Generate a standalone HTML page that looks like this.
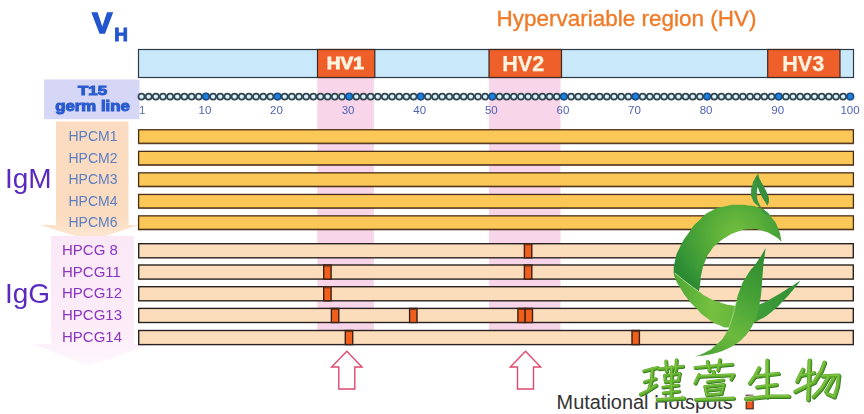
<!DOCTYPE html>
<html><head><meta charset="utf-8"><title>VH hypervariable region</title>
<style>
html,body{margin:0;padding:0;background:#fff;}
body{width:864px;height:414px;overflow:hidden;font-family:"Liberation Sans",sans-serif;}
svg{display:block;}
text{font-family:"Liberation Sans",sans-serif;}
</style></head><body>
<svg width="864" height="414" viewBox="0 0 864 414">
<defs>
<linearGradient id="gIgM" x1="0" y1="0" x2="0" y2="1"><stop offset="0" stop-color="#fbdcc2"/><stop offset="0.8" stop-color="#fbdcc0"/><stop offset="1" stop-color="#fde9d6"/></linearGradient>
<linearGradient id="gIgG" x1="0" y1="0" x2="0" y2="1"><stop offset="0" stop-color="#fae8f7"/><stop offset="0.7" stop-color="#fcecf8"/><stop offset="1" stop-color="#fef7fc"/></linearGradient>
<linearGradient id="gLogoA" x1="0" y1="0" x2="1" y2="1"><stop offset="0" stop-color="#3f9a2c"/><stop offset="0.45" stop-color="#6cb83a"/><stop offset="1" stop-color="#2f8a2a"/></linearGradient>
<linearGradient id="gLogoB" x1="0" y1="0" x2="1" y2="1"><stop offset="0" stop-color="#4aa52e"/><stop offset="0.5" stop-color="#7cc441"/><stop offset="1" stop-color="#3d9a30"/></linearGradient>
<linearGradient id="gLogoC" x1="0" y1="0" x2="0" y2="1"><stop offset="0" stop-color="#2f8a2c"/><stop offset="0.5" stop-color="#5fb038"/><stop offset="1" stop-color="#3f9a2c"/></linearGradient>
<filter id="soft" x="0" y="0" width="864" height="414" filterUnits="userSpaceOnUse"><feGaussianBlur stdDeviation="0.45"/></filter>
<linearGradient id="gTxt" x1="0" y1="0" x2="0" y2="1"><stop offset="0" stop-color="#7abf3a"/><stop offset="1" stop-color="#3f8f22"/></linearGradient>
</defs>
<rect width="864" height="414" fill="#fff"/>
<g filter="url(#soft)">

<rect x="317.3" y="78" width="56.6" height="266.8" fill="#f8d5e8"/>
<rect x="489" y="78" width="71.5" height="266.8" fill="#f8d5e8"/>
<polygon points="56,121.5 128.5,121.5 128.5,225 138,225 91,241 40,225 56,225" fill="url(#gIgM)"/>
<polygon points="51,236 134,236 134,344 150,344 90,366 32,344 51,344" fill="url(#gIgG)"/>
<rect x="44" y="79.5" width="95.5" height="39.7" fill="#d6d6f7"/>
<rect x="138.5" y="49.5" width="715" height="28" fill="#c9e9fb" stroke="#2b3a45" stroke-width="1.2"/>
<rect x="317.5" y="49.5" width="57.30000000000001" height="28" fill="#ee5f2c" stroke="#3a2a24" stroke-width="1.2"/>
<rect x="489" y="49.5" width="72.5" height="28" fill="#ee5f2c" stroke="#3a2a24" stroke-width="1.2"/>
<rect x="767.7" y="49.5" width="72.29999999999995" height="28" fill="#ee5f2c" stroke="#3a2a24" stroke-width="1.2"/>
<text x="326.8" y="69.4" font-size="16.4" font-weight="bold" fill="#fdf3df" stroke="#fdf3df" stroke-width="0.9" textLength="37" lengthAdjust="spacingAndGlyphs">HV1</text>
<text x="502.2" y="71" font-size="21.6" font-weight="bold" fill="#fdf3df" stroke="#fdf3df" stroke-width="0.25" textLength="42" lengthAdjust="spacingAndGlyphs">HV2</text>
<text x="782.2" y="70.9" font-size="21.6" font-weight="bold" fill="#fdf3df" stroke="#fdf3df" stroke-width="0.25" textLength="42" lengthAdjust="spacingAndGlyphs">HV3</text>
<circle cx="141.50" cy="96.6" r="3.05" fill="#d8f0fb" stroke="#33454f" stroke-width="1.75"/>
<circle cx="148.66" cy="96.6" r="3.05" fill="#d8f0fb" stroke="#33454f" stroke-width="1.75"/>
<circle cx="155.82" cy="96.6" r="3.05" fill="#d8f0fb" stroke="#33454f" stroke-width="1.75"/>
<circle cx="162.98" cy="96.6" r="3.05" fill="#d8f0fb" stroke="#33454f" stroke-width="1.75"/>
<circle cx="170.14" cy="96.6" r="3.05" fill="#d8f0fb" stroke="#33454f" stroke-width="1.75"/>
<circle cx="177.30" cy="96.6" r="3.05" fill="#d8f0fb" stroke="#33454f" stroke-width="1.75"/>
<circle cx="184.46" cy="96.6" r="3.05" fill="#d8f0fb" stroke="#33454f" stroke-width="1.75"/>
<circle cx="191.62" cy="96.6" r="3.05" fill="#d8f0fb" stroke="#33454f" stroke-width="1.75"/>
<circle cx="198.78" cy="96.6" r="3.05" fill="#d8f0fb" stroke="#33454f" stroke-width="1.75"/>
<circle cx="205.94" cy="96.6" r="3.3" fill="#1b82e2" stroke="#1c4c80" stroke-width="1.6"/>
<circle cx="213.10" cy="96.6" r="3.05" fill="#d8f0fb" stroke="#33454f" stroke-width="1.75"/>
<circle cx="220.26" cy="96.6" r="3.05" fill="#d8f0fb" stroke="#33454f" stroke-width="1.75"/>
<circle cx="227.42" cy="96.6" r="3.05" fill="#d8f0fb" stroke="#33454f" stroke-width="1.75"/>
<circle cx="234.57" cy="96.6" r="3.05" fill="#d8f0fb" stroke="#33454f" stroke-width="1.75"/>
<circle cx="241.73" cy="96.6" r="3.05" fill="#d8f0fb" stroke="#33454f" stroke-width="1.75"/>
<circle cx="248.89" cy="96.6" r="3.05" fill="#d8f0fb" stroke="#33454f" stroke-width="1.75"/>
<circle cx="256.05" cy="96.6" r="3.05" fill="#d8f0fb" stroke="#33454f" stroke-width="1.75"/>
<circle cx="263.21" cy="96.6" r="3.05" fill="#d8f0fb" stroke="#33454f" stroke-width="1.75"/>
<circle cx="270.37" cy="96.6" r="3.05" fill="#d8f0fb" stroke="#33454f" stroke-width="1.75"/>
<circle cx="277.53" cy="96.6" r="3.3" fill="#1b82e2" stroke="#1c4c80" stroke-width="1.6"/>
<circle cx="284.69" cy="96.6" r="3.05" fill="#d8f0fb" stroke="#33454f" stroke-width="1.75"/>
<circle cx="291.85" cy="96.6" r="3.05" fill="#d8f0fb" stroke="#33454f" stroke-width="1.75"/>
<circle cx="299.01" cy="96.6" r="3.05" fill="#d8f0fb" stroke="#33454f" stroke-width="1.75"/>
<circle cx="306.17" cy="96.6" r="3.05" fill="#d8f0fb" stroke="#33454f" stroke-width="1.75"/>
<circle cx="313.33" cy="96.6" r="3.05" fill="#d8f0fb" stroke="#33454f" stroke-width="1.75"/>
<circle cx="320.49" cy="96.6" r="3.05" fill="#d8f0fb" stroke="#33454f" stroke-width="1.75"/>
<circle cx="327.65" cy="96.6" r="3.05" fill="#d8f0fb" stroke="#33454f" stroke-width="1.75"/>
<circle cx="334.81" cy="96.6" r="3.05" fill="#d8f0fb" stroke="#33454f" stroke-width="1.75"/>
<circle cx="341.97" cy="96.6" r="3.05" fill="#d8f0fb" stroke="#33454f" stroke-width="1.75"/>
<circle cx="349.13" cy="96.6" r="3.3" fill="#1b82e2" stroke="#1c4c80" stroke-width="1.6"/>
<circle cx="356.29" cy="96.6" r="3.05" fill="#d8f0fb" stroke="#33454f" stroke-width="1.75"/>
<circle cx="363.45" cy="96.6" r="3.05" fill="#d8f0fb" stroke="#33454f" stroke-width="1.75"/>
<circle cx="370.61" cy="96.6" r="3.05" fill="#d8f0fb" stroke="#33454f" stroke-width="1.75"/>
<circle cx="377.77" cy="96.6" r="3.05" fill="#d8f0fb" stroke="#33454f" stroke-width="1.75"/>
<circle cx="384.93" cy="96.6" r="3.05" fill="#d8f0fb" stroke="#33454f" stroke-width="1.75"/>
<circle cx="392.09" cy="96.6" r="3.05" fill="#d8f0fb" stroke="#33454f" stroke-width="1.75"/>
<circle cx="399.25" cy="96.6" r="3.05" fill="#d8f0fb" stroke="#33454f" stroke-width="1.75"/>
<circle cx="406.41" cy="96.6" r="3.05" fill="#d8f0fb" stroke="#33454f" stroke-width="1.75"/>
<circle cx="413.56" cy="96.6" r="3.05" fill="#d8f0fb" stroke="#33454f" stroke-width="1.75"/>
<circle cx="420.72" cy="96.6" r="3.3" fill="#1b82e2" stroke="#1c4c80" stroke-width="1.6"/>
<circle cx="427.88" cy="96.6" r="3.05" fill="#d8f0fb" stroke="#33454f" stroke-width="1.75"/>
<circle cx="435.04" cy="96.6" r="3.05" fill="#d8f0fb" stroke="#33454f" stroke-width="1.75"/>
<circle cx="442.20" cy="96.6" r="3.05" fill="#d8f0fb" stroke="#33454f" stroke-width="1.75"/>
<circle cx="449.36" cy="96.6" r="3.05" fill="#d8f0fb" stroke="#33454f" stroke-width="1.75"/>
<circle cx="456.52" cy="96.6" r="3.05" fill="#d8f0fb" stroke="#33454f" stroke-width="1.75"/>
<circle cx="463.68" cy="96.6" r="3.05" fill="#d8f0fb" stroke="#33454f" stroke-width="1.75"/>
<circle cx="470.84" cy="96.6" r="3.05" fill="#d8f0fb" stroke="#33454f" stroke-width="1.75"/>
<circle cx="478.00" cy="96.6" r="3.05" fill="#d8f0fb" stroke="#33454f" stroke-width="1.75"/>
<circle cx="485.16" cy="96.6" r="3.05" fill="#d8f0fb" stroke="#33454f" stroke-width="1.75"/>
<circle cx="492.32" cy="96.6" r="3.3" fill="#1b82e2" stroke="#1c4c80" stroke-width="1.6"/>
<circle cx="499.48" cy="96.6" r="3.05" fill="#d8f0fb" stroke="#33454f" stroke-width="1.75"/>
<circle cx="506.64" cy="96.6" r="3.05" fill="#d8f0fb" stroke="#33454f" stroke-width="1.75"/>
<circle cx="513.80" cy="96.6" r="3.05" fill="#d8f0fb" stroke="#33454f" stroke-width="1.75"/>
<circle cx="520.96" cy="96.6" r="3.05" fill="#d8f0fb" stroke="#33454f" stroke-width="1.75"/>
<circle cx="528.12" cy="96.6" r="3.05" fill="#d8f0fb" stroke="#33454f" stroke-width="1.75"/>
<circle cx="535.28" cy="96.6" r="3.05" fill="#d8f0fb" stroke="#33454f" stroke-width="1.75"/>
<circle cx="542.44" cy="96.6" r="3.05" fill="#d8f0fb" stroke="#33454f" stroke-width="1.75"/>
<circle cx="549.60" cy="96.6" r="3.05" fill="#d8f0fb" stroke="#33454f" stroke-width="1.75"/>
<circle cx="556.76" cy="96.6" r="3.05" fill="#d8f0fb" stroke="#33454f" stroke-width="1.75"/>
<circle cx="563.92" cy="96.6" r="3.3" fill="#1b82e2" stroke="#1c4c80" stroke-width="1.6"/>
<circle cx="571.08" cy="96.6" r="3.05" fill="#d8f0fb" stroke="#33454f" stroke-width="1.75"/>
<circle cx="578.24" cy="96.6" r="3.05" fill="#d8f0fb" stroke="#33454f" stroke-width="1.75"/>
<circle cx="585.39" cy="96.6" r="3.05" fill="#d8f0fb" stroke="#33454f" stroke-width="1.75"/>
<circle cx="592.55" cy="96.6" r="3.05" fill="#d8f0fb" stroke="#33454f" stroke-width="1.75"/>
<circle cx="599.71" cy="96.6" r="3.05" fill="#d8f0fb" stroke="#33454f" stroke-width="1.75"/>
<circle cx="606.87" cy="96.6" r="3.05" fill="#d8f0fb" stroke="#33454f" stroke-width="1.75"/>
<circle cx="614.03" cy="96.6" r="3.05" fill="#d8f0fb" stroke="#33454f" stroke-width="1.75"/>
<circle cx="621.19" cy="96.6" r="3.05" fill="#d8f0fb" stroke="#33454f" stroke-width="1.75"/>
<circle cx="628.35" cy="96.6" r="3.05" fill="#d8f0fb" stroke="#33454f" stroke-width="1.75"/>
<circle cx="635.51" cy="96.6" r="3.3" fill="#1b82e2" stroke="#1c4c80" stroke-width="1.6"/>
<circle cx="642.67" cy="96.6" r="3.05" fill="#d8f0fb" stroke="#33454f" stroke-width="1.75"/>
<circle cx="649.83" cy="96.6" r="3.05" fill="#d8f0fb" stroke="#33454f" stroke-width="1.75"/>
<circle cx="656.99" cy="96.6" r="3.05" fill="#d8f0fb" stroke="#33454f" stroke-width="1.75"/>
<circle cx="664.15" cy="96.6" r="3.05" fill="#d8f0fb" stroke="#33454f" stroke-width="1.75"/>
<circle cx="671.31" cy="96.6" r="3.05" fill="#d8f0fb" stroke="#33454f" stroke-width="1.75"/>
<circle cx="678.47" cy="96.6" r="3.05" fill="#d8f0fb" stroke="#33454f" stroke-width="1.75"/>
<circle cx="685.63" cy="96.6" r="3.05" fill="#d8f0fb" stroke="#33454f" stroke-width="1.75"/>
<circle cx="692.79" cy="96.6" r="3.05" fill="#d8f0fb" stroke="#33454f" stroke-width="1.75"/>
<circle cx="699.95" cy="96.6" r="3.05" fill="#d8f0fb" stroke="#33454f" stroke-width="1.75"/>
<circle cx="707.11" cy="96.6" r="3.3" fill="#1b82e2" stroke="#1c4c80" stroke-width="1.6"/>
<circle cx="714.27" cy="96.6" r="3.05" fill="#d8f0fb" stroke="#33454f" stroke-width="1.75"/>
<circle cx="721.43" cy="96.6" r="3.05" fill="#d8f0fb" stroke="#33454f" stroke-width="1.75"/>
<circle cx="728.59" cy="96.6" r="3.05" fill="#d8f0fb" stroke="#33454f" stroke-width="1.75"/>
<circle cx="735.75" cy="96.6" r="3.05" fill="#d8f0fb" stroke="#33454f" stroke-width="1.75"/>
<circle cx="742.91" cy="96.6" r="3.05" fill="#d8f0fb" stroke="#33454f" stroke-width="1.75"/>
<circle cx="750.07" cy="96.6" r="3.05" fill="#d8f0fb" stroke="#33454f" stroke-width="1.75"/>
<circle cx="757.23" cy="96.6" r="3.05" fill="#d8f0fb" stroke="#33454f" stroke-width="1.75"/>
<circle cx="764.38" cy="96.6" r="3.05" fill="#d8f0fb" stroke="#33454f" stroke-width="1.75"/>
<circle cx="771.54" cy="96.6" r="3.05" fill="#d8f0fb" stroke="#33454f" stroke-width="1.75"/>
<circle cx="778.70" cy="96.6" r="3.3" fill="#1b82e2" stroke="#1c4c80" stroke-width="1.6"/>
<circle cx="785.86" cy="96.6" r="3.05" fill="#d8f0fb" stroke="#33454f" stroke-width="1.75"/>
<circle cx="793.02" cy="96.6" r="3.05" fill="#d8f0fb" stroke="#33454f" stroke-width="1.75"/>
<circle cx="800.18" cy="96.6" r="3.05" fill="#d8f0fb" stroke="#33454f" stroke-width="1.75"/>
<circle cx="807.34" cy="96.6" r="3.05" fill="#d8f0fb" stroke="#33454f" stroke-width="1.75"/>
<circle cx="814.50" cy="96.6" r="3.05" fill="#d8f0fb" stroke="#33454f" stroke-width="1.75"/>
<circle cx="821.66" cy="96.6" r="3.05" fill="#d8f0fb" stroke="#33454f" stroke-width="1.75"/>
<circle cx="828.82" cy="96.6" r="3.05" fill="#d8f0fb" stroke="#33454f" stroke-width="1.75"/>
<circle cx="835.98" cy="96.6" r="3.05" fill="#d8f0fb" stroke="#33454f" stroke-width="1.75"/>
<circle cx="843.14" cy="96.6" r="3.05" fill="#d8f0fb" stroke="#33454f" stroke-width="1.75"/>
<circle cx="850.30" cy="96.6" r="3.3" fill="#1b82e2" stroke="#1c4c80" stroke-width="1.6"/>
<text x="139" y="114" font-size="11.5" fill="#5b6fb5">1</text>
<text x="204.9" y="114" font-size="11.5" fill="#4f62b4" text-anchor="middle">10</text>
<text x="276.5" y="114" font-size="11.5" fill="#4f62b4" text-anchor="middle">20</text>
<text x="348.1" y="114" font-size="11.5" fill="#4f62b4" text-anchor="middle">30</text>
<text x="419.7" y="114" font-size="11.5" fill="#4f62b4" text-anchor="middle">40</text>
<text x="491.3" y="114" font-size="11.5" fill="#4f62b4" text-anchor="middle">50</text>
<text x="562.9" y="114" font-size="11.5" fill="#4f62b4" text-anchor="middle">60</text>
<text x="634.5" y="114" font-size="11.5" fill="#4f62b4" text-anchor="middle">70</text>
<text x="706.1" y="114" font-size="11.5" fill="#4f62b4" text-anchor="middle">80</text>
<text x="777.7" y="114" font-size="11.5" fill="#4f62b4" text-anchor="middle">90</text>
<text x="850.0" y="114" font-size="11.5" fill="#4f62b4" text-anchor="middle">100</text>
<rect x="138.6" y="129.75" width="714.8" height="13.5" fill="#fbc757" stroke="#4a2f1a" stroke-width="1.3"/>
<rect x="138" y="143.40" width="716" height="0.9" fill="#5a3c22" opacity="0.75"/>
<rect x="138.6" y="151.35" width="714.8" height="13.5" fill="#fbc757" stroke="#4a2f1a" stroke-width="1.3"/>
<rect x="138" y="165.00" width="716" height="0.9" fill="#5a3c22" opacity="0.75"/>
<rect x="138.6" y="172.85" width="714.8" height="13.5" fill="#fbc757" stroke="#4a2f1a" stroke-width="1.3"/>
<rect x="138" y="186.50" width="716" height="0.9" fill="#5a3c22" opacity="0.75"/>
<rect x="138.6" y="194.45" width="714.8" height="13.5" fill="#fbc757" stroke="#4a2f1a" stroke-width="1.3"/>
<rect x="138" y="208.10" width="716" height="0.9" fill="#5a3c22" opacity="0.75"/>
<rect x="138.6" y="215.85" width="714.8" height="13.5" fill="#fbc757" stroke="#4a2f1a" stroke-width="1.3"/>
<rect x="138" y="229.50" width="716" height="0.9" fill="#5a3c22" opacity="0.75"/>
<rect x="138.7" y="243.70" width="714.6" height="14.1" fill="#fbdcbb" stroke="#2a2320" stroke-width="1.4"/>
<rect x="138.7" y="265.00" width="714.6" height="14.1" fill="#fbdcbb" stroke="#2a2320" stroke-width="1.4"/>
<rect x="138.7" y="286.70" width="714.6" height="14.1" fill="#fbdcbb" stroke="#2a2320" stroke-width="1.4"/>
<rect x="138.7" y="308.40" width="714.6" height="14.1" fill="#fbdcbb" stroke="#2a2320" stroke-width="1.4"/>
<rect x="138.7" y="330.50" width="714.6" height="14.1" fill="#fbdcbb" stroke="#2a2320" stroke-width="1.4"/>
<rect x="524.40" y="243.70" width="7.4" height="14.1" fill="#f0601f" stroke="#3a2016" stroke-width="1.4"/>
<rect x="525.10" y="244.40" width="6" height="0.9" fill="#3a2016" opacity="0.7"/>
<rect x="323.70" y="265.00" width="7.4" height="14.1" fill="#f0601f" stroke="#3a2016" stroke-width="1.4"/>
<rect x="324.40" y="265.70" width="6" height="0.9" fill="#3a2016" opacity="0.7"/>
<rect x="524.40" y="265.00" width="7.4" height="14.1" fill="#f0601f" stroke="#3a2016" stroke-width="1.4"/>
<rect x="525.10" y="265.70" width="6" height="0.9" fill="#3a2016" opacity="0.7"/>
<rect x="323.70" y="286.70" width="7.4" height="14.1" fill="#f0601f" stroke="#3a2016" stroke-width="1.4"/>
<rect x="324.40" y="287.40" width="6" height="0.9" fill="#3a2016" opacity="0.7"/>
<rect x="331.40" y="308.40" width="7.4" height="14.1" fill="#f0601f" stroke="#3a2016" stroke-width="1.4"/>
<rect x="332.10" y="309.10" width="6" height="0.9" fill="#3a2016" opacity="0.7"/>
<rect x="409.60" y="308.40" width="7.4" height="14.1" fill="#f0601f" stroke="#3a2016" stroke-width="1.4"/>
<rect x="410.30" y="309.10" width="6" height="0.9" fill="#3a2016" opacity="0.7"/>
<rect x="517.90" y="308.40" width="7.4" height="14.1" fill="#f0601f" stroke="#3a2016" stroke-width="1.4"/>
<rect x="518.60" y="309.10" width="6" height="0.9" fill="#3a2016" opacity="0.7"/>
<rect x="525.10" y="308.40" width="7.4" height="14.1" fill="#f0601f" stroke="#3a2016" stroke-width="1.4"/>
<rect x="525.80" y="309.10" width="6" height="0.9" fill="#3a2016" opacity="0.7"/>
<rect x="345.30" y="330.50" width="7.4" height="14.1" fill="#f0601f" stroke="#3a2016" stroke-width="1.4"/>
<rect x="346.00" y="331.20" width="6" height="0.9" fill="#3a2016" opacity="0.7"/>
<rect x="632.00" y="330.50" width="7.4" height="14.1" fill="#f0601f" stroke="#3a2016" stroke-width="1.4"/>
<rect x="632.70" y="331.20" width="6" height="0.9" fill="#3a2016" opacity="0.7"/>
<polygon points="346.8,351.3 362.0,367.0 354.8,367.0 354.8,389.0 338.8,389.0 338.8,367.0 331.6,367.0" fill="#fff" stroke="#e0486e" stroke-width="1.4" stroke-linejoin="miter"/>
<polygon points="525.5,351.3 540.7,367.0 533.5,367.0 533.5,389.0 517.5,389.0 517.5,367.0 510.3,367.0" fill="#fff" stroke="#e0486e" stroke-width="1.4" stroke-linejoin="miter"/>
<text x="102.2" y="32.8" font-size="30" font-weight="bold" fill="#2456cf" stroke="#2456cf" stroke-width="1.6" stroke-linejoin="miter" text-anchor="middle">V</text>
<text x="121.2" y="41.2" font-size="19" font-weight="bold" fill="#2456cf" stroke="#2456cf" stroke-width="0.9" text-anchor="middle">H</text>
<text x="496.5" y="25.6" font-size="22" fill="#f07a28" stroke="#f07a28" stroke-width="0.35" textLength="260" lengthAdjust="spacingAndGlyphs">Hypervariable region (HV)</text>
<text x="78" y="95.0" font-size="13.5" font-weight="bold" fill="#2a5bd0" stroke="#2a5bd0" stroke-width="1.0" textLength="29" lengthAdjust="spacingAndGlyphs">T15</text>
<text x="55.3" y="111.3" font-size="14" font-weight="bold" fill="#2a5bd0" stroke="#2a5bd0" stroke-width="1.0" textLength="74.5" lengthAdjust="spacingAndGlyphs">germ line</text>
<text x="68.5" y="140.9" font-size="14" fill="#5c7ec0">HPCM1</text>
<text x="68.5" y="162.5" font-size="14" fill="#5c7ec0">HPCM2</text>
<text x="68.5" y="184.0" font-size="14" fill="#5c7ec0">HPCM3</text>
<text x="68.5" y="205.6" font-size="14" fill="#5c7ec0">HPCM4</text>
<text x="68.5" y="227.0" font-size="14" fill="#5c7ec0">HPCM6</text>
<text x="62" y="255.3" font-size="15" fill="#8a35c0">HPCG 8</text>
<text x="62" y="276.6" font-size="15" fill="#8a35c0">HPCG11</text>
<text x="62" y="298.3" font-size="15" fill="#8a35c0">HPCG12</text>
<text x="62" y="320.0" font-size="15" fill="#8a35c0">HPCG13</text>
<text x="62" y="342.1" font-size="15" fill="#8a35c0">HPCG14</text>
<text x="5" y="188" font-size="28" fill="#5a2cc0">IgM</text>
<text x="5" y="302.5" font-size="28" fill="#5a2cc0">IgG</text>
</g>
<text x="556.6" y="409.3" font-size="19.5" fill="#333333" textLength="176" lengthAdjust="spacingAndGlyphs">Mutational Hotspots</text>
<rect x="746.2" y="395.3" width="7" height="13.5" fill="#ee5a1e" stroke="#4a2a1c" stroke-width="1.2"/>
<defs>
<radialGradient id="lgC" gradientUnits="userSpaceOnUse" cx="736" cy="234" r="66"><stop offset="0" stop-color="#74be40"/><stop offset="0.45" stop-color="#55ab38"/><stop offset="0.85" stop-color="#379636"/><stop offset="1" stop-color="#2c8a32"/></radialGradient>
<linearGradient id="lgS" gradientUnits="userSpaceOnUse" x1="676" y1="285" x2="800" y2="292"><stop offset="0" stop-color="#4fa835"/><stop offset="0.3" stop-color="#76c141"/><stop offset="0.55" stop-color="#5fb23a"/><stop offset="0.68" stop-color="#3f9c38"/><stop offset="1" stop-color="#2f8f34"/></linearGradient>
<linearGradient id="lgB" gradientUnits="userSpaceOnUse" x1="766" y1="248" x2="704" y2="356"><stop offset="0" stop-color="#2a8730"/><stop offset="0.4" stop-color="#46a236"/><stop offset="0.75" stop-color="#6cba3e"/><stop offset="1" stop-color="#4aa436"/></linearGradient>
</defs>
<g id="logo">
<path d="M673.6,272.5C674.2,274.7 673.4,274.0 675.5,279.0C677.6,284.0 676.2,281.2 680.0,287.5C683.8,293.8 681.8,291.3 687.0,298.0C692.2,304.7 689.1,301.0 695.5,307.5C701.9,314.0 698.6,311.8 706.2,317.5C713.8,323.2 710.4,321.4 718.3,324.7C726.2,328.0 721.1,327.1 730.0,327.5C738.9,327.9 735.6,328.3 745.0,326.0C754.4,323.7 749.4,325.2 758.2,320.5C767.0,315.8 763.0,318.6 771.5,312.0C780.0,305.4 776.4,307.9 783.6,300.6C790.8,293.3 787.4,296.7 793.0,290.0C798.6,283.3 798.0,283.7 800.5,280.5C795.7,283.6 794.9,284.2 786.0,289.7C777.1,295.2 782.8,292.2 773.9,297.0C765.0,301.8 769.0,301.0 759.4,304.2C749.8,307.4 753.9,306.0 745.0,306.5C736.1,307.0 741.7,307.2 732.8,305.6C723.9,304.0 727.2,304.8 718.3,301.8C709.4,298.8 712.6,299.9 706.2,296.5C699.8,293.1 705.7,296.3 699.0,291.5C692.3,286.7 694.5,288.3 686.0,282.0C677.5,275.7 677.7,275.7 673.6,272.5Z" fill="url(#lgS)"/>
<path d="M781.6,241.8C780.4,237.2 781.2,235.9 778.0,228.0C774.8,220.1 776.2,223.7 772.0,218.0C767.8,212.3 770.2,214.5 765.5,211.0C760.8,207.5 763.3,209.3 758.0,207.5C752.7,205.7 756.5,206.5 749.7,205.6C742.9,204.7 745.7,204.6 737.7,204.8C729.7,205.0 734.2,204.3 725.6,206.2C717.0,208.1 720.9,205.7 712.0,210.5C703.1,215.3 706.7,213.2 699.0,220.5C691.3,227.8 695.3,223.7 689.0,232.5C682.7,241.3 684.7,237.5 680.0,247.0C675.3,256.5 677.1,252.5 675.0,261.0C672.9,269.5 674.1,268.7 673.6,272.5C677.7,275.7 677.5,275.7 686.0,282.0C694.5,288.3 694.7,288.3 699.0,291.5C699.5,288.0 699.7,286.8 700.5,281.0C701.3,275.2 699.7,280.8 701.4,274.0C703.1,267.2 702.3,268.3 705.5,260.5C708.7,252.7 707.2,256.0 711.0,250.5C714.8,245.0 712.1,248.3 717.0,244.0C721.9,239.7 718.7,241.6 725.6,237.5C732.5,233.4 729.7,234.4 737.7,231.7C745.7,229.0 741.7,229.7 749.7,229.3C757.7,228.9 753.9,228.5 761.8,230.6C769.7,232.7 766.9,231.8 773.5,235.5C780.1,239.2 778.9,239.7 781.6,241.8Z" fill="url(#lgC)"/>
<path d="M675,273 C683,280 691,286 699.5,292" fill="none" stroke="#cdeab0" stroke-width="0.7"/>
<path d="M765.8,248.0C762.9,252.7 763.2,253.0 757.0,262.0C750.8,271.0 753.0,265.8 747.3,275.0C741.6,284.2 744.0,279.2 740.0,289.5C736.0,299.8 738.0,295.8 735.2,306.0C732.4,316.2 734.8,310.7 731.6,320.0C728.4,329.3 730.8,325.7 725.6,334.0C720.4,342.3 722.5,339.0 716.0,345.0C709.5,351.0 713.0,348.2 706.0,352.0C699.0,355.8 698.7,355.0 695.0,356.5C698.7,356.0 699.2,356.2 706.2,355.0C713.2,353.8 709.5,354.8 716.0,353.0C722.5,351.2 719.3,352.3 725.6,349.5C731.9,346.7 729.4,348.1 735.0,344.5C740.6,340.9 737.8,343.2 742.5,338.7C747.2,334.2 745.3,336.2 749.0,331.0C752.7,325.8 750.9,328.7 753.6,323.0C756.3,317.3 755.0,320.3 757.0,314.0C759.0,307.7 758.1,312.3 759.6,304.0C761.1,295.7 760.5,300.3 761.6,289.0C762.7,277.7 762.0,281.0 763.0,270.0C764.0,259.0 763.7,263.3 764.6,256.0C765.5,248.7 765.4,250.7 765.8,248.0Z" fill="url(#lgB)"/>
<path d="M736.5,301 C734.5,310 732.5,318 729,327" fill="none" stroke="#bfe59c" stroke-width="0.6"/>
<path d="M758.4,173.2C757.1,175.1 756.6,175.2 754.6,179.0C752.6,182.8 753.7,180.1 752.5,184.5C751.3,188.9 751.1,187.2 751.1,192.2C751.1,197.2 750.8,195.2 752.6,199.4C754.4,203.6 753.4,201.7 756.6,204.8C759.8,207.9 759.2,206.5 762.3,208.7C765.4,210.9 763.4,209.2 766.0,211.5C768.6,213.8 768.7,214.2 770.0,215.5C767.8,214.8 765.7,214.2 763.5,213.5C762.4,210.8 762.1,209.8 760.2,205.5C758.3,201.2 759.0,204.0 757.9,200.5C756.8,197.0 757.2,198.8 757.0,195.0C756.8,191.2 756.9,193.5 757.3,189.0C757.7,184.5 757.8,186.8 758.2,181.5C758.6,176.2 758.3,176.0 758.4,173.2Z" fill="#3a9640"/>
<path d="M758.0,174.5C758.8,176.4 758.3,176.0 760.4,180.3C762.5,184.6 761.8,182.5 764.2,187.3C766.6,192.1 766.0,190.2 767.6,194.6C769.2,199.0 769.0,196.8 768.9,200.5C768.8,204.2 767.9,204.0 767.4,205.8C766.7,204.7 767.0,205.1 765.4,202.5C763.8,199.9 764.4,201.2 762.6,198.0C760.8,194.8 761.4,196.1 759.9,192.8C758.4,189.5 758.8,189.6 758.2,188.0C757.7,187.3 757.3,186.7 756.8,186.0C756.9,183.3 756.9,180.7 757.0,178.0C757.3,176.8 757.7,175.7 758.0,174.5Z" fill="#368f3c"/>
</g>
<g fill="none" stroke-linecap="round" stroke-linejoin="round">
<g stroke="#ffffff" opacity="0.75"><path d="M643.9,371.0 L657.6,367.7" stroke-width="5.4"/><path d="M652.3,369.0 L651.7,380.1 L649.1,388.6" stroke-width="5.6"/><path d="M644.5,382.0 L655.6,378.8" stroke-width="5.3"/><path d="M640.6,394.4 L647.1,391.2 L656.3,385.3" stroke-width="5.5"/><path d="M658.9,369.0 L683.0,366.4" stroke-width="5.3"/><path d="M666.0,361.2 L666.7,371.6" stroke-width="5.5"/><path d="M676.5,359.9 L675.8,371.0" stroke-width="5.5"/><path d="M664.7,375.5 L679.7,373.6" stroke-width="5.0"/><path d="M664.7,375.5 L665.4,382.0" stroke-width="5.2"/><path d="M679.7,373.6 L678.4,380.7" stroke-width="5.2"/><path d="M665.4,382.0 L678.4,380.7" stroke-width="5.0"/><path d="M671.7,367.0 L671.3,399.0" stroke-width="5.6"/><path d="M662.8,387.3 L678.4,385.3" stroke-width="5.2"/><path d="M663.4,393.1 L679.1,391.2" stroke-width="5.2"/><path d="M657.6,399.7 L684.3,398.3" stroke-width="5.6"/><path d="M695.2,367.7 L732.3,364.4" stroke-width="5.4"/><path d="M707.6,361.8 L709.5,371.0" stroke-width="5.6"/><path d="M720.0,359.9 L718.0,370.3" stroke-width="5.6"/><path d="M713.4,371.6 L714.1,374.9" stroke-width="5.6"/><path d="M699.1,374.9 L695.2,383.3" stroke-width="5.6"/><path d="M699.7,376.4 L733.7,374.9 L731.0,379.4" stroke-width="5.4"/><path d="M707.6,382.0 L723.2,380.1" stroke-width="5.2"/><path d="M705.0,386.6 L706.9,395.1" stroke-width="5.4"/><path d="M705.0,386.6 L723.9,384.7 L721.3,393.8" stroke-width="5.3"/><path d="M707.6,390.5 L720.6,389.2" stroke-width="4.8"/><path d="M706.9,395.1 L721.3,393.8" stroke-width="5.2"/><path d="M695.8,399.7 L733.7,398.3" stroke-width="5.6"/><path d="M759.0,368.3 L755.0,376.2 L749.8,383.3" stroke-width="5.9"/><path d="M756.3,376.2 L778.5,373.6" stroke-width="5.7"/><path d="M767.4,360.5 L767.4,397.0" stroke-width="6.1"/><path d="M757.0,387.3 L776.6,384.7" stroke-width="5.7"/><path d="M745.9,399.0 L768.1,396.4 L789.0,396.4" stroke-width="5.9"/><path d="M803.0,369.7 L797.2,381.4" stroke-width="6.1"/><path d="M801.1,375.5 L814.1,372.9" stroke-width="5.7"/><path d="M809.6,360.5 L808.3,399.7" stroke-width="6.3"/><path d="M795.2,391.8 L814.8,382.0" stroke-width="5.9"/><path d="M824.6,362.5 L821.3,371.0 L815.4,380.1" stroke-width="6.1"/><path d="M822.6,376.2 L838.9,375.5 L837.6,386.6 L834.3,397.0 L827.2,393.8" stroke-width="5.9"/><path d="M828.5,376.8 L822.0,387.9 L813.5,397.0" stroke-width="5.9"/><path d="M833.7,378.1 L825.9,391.8" stroke-width="5.7"/></g>
<g stroke="#2e6f1c" transform="translate(0.6,0.7)"><path d="M643.9,371.0 L657.6,367.7" stroke-width="3.3"/><path d="M652.3,369.0 L651.7,380.1 L649.1,388.6" stroke-width="3.5"/><path d="M644.5,382.0 L655.6,378.8" stroke-width="3.2"/><path d="M640.6,394.4 L647.1,391.2 L656.3,385.3" stroke-width="3.4"/><path d="M658.9,369.0 L683.0,366.4" stroke-width="3.2"/><path d="M666.0,361.2 L666.7,371.6" stroke-width="3.4"/><path d="M676.5,359.9 L675.8,371.0" stroke-width="3.4"/><path d="M664.7,375.5 L679.7,373.6" stroke-width="2.9"/><path d="M664.7,375.5 L665.4,382.0" stroke-width="3.1"/><path d="M679.7,373.6 L678.4,380.7" stroke-width="3.1"/><path d="M665.4,382.0 L678.4,380.7" stroke-width="2.9"/><path d="M671.7,367.0 L671.3,399.0" stroke-width="3.5"/><path d="M662.8,387.3 L678.4,385.3" stroke-width="3.1"/><path d="M663.4,393.1 L679.1,391.2" stroke-width="3.1"/><path d="M657.6,399.7 L684.3,398.3" stroke-width="3.5"/><path d="M695.2,367.7 L732.3,364.4" stroke-width="3.3"/><path d="M707.6,361.8 L709.5,371.0" stroke-width="3.5"/><path d="M720.0,359.9 L718.0,370.3" stroke-width="3.5"/><path d="M713.4,371.6 L714.1,374.9" stroke-width="3.5"/><path d="M699.1,374.9 L695.2,383.3" stroke-width="3.5"/><path d="M699.7,376.4 L733.7,374.9 L731.0,379.4" stroke-width="3.3"/><path d="M707.6,382.0 L723.2,380.1" stroke-width="3.1"/><path d="M705.0,386.6 L706.9,395.1" stroke-width="3.3"/><path d="M705.0,386.6 L723.9,384.7 L721.3,393.8" stroke-width="3.2"/><path d="M707.6,390.5 L720.6,389.2" stroke-width="2.7"/><path d="M706.9,395.1 L721.3,393.8" stroke-width="3.1"/><path d="M695.8,399.7 L733.7,398.3" stroke-width="3.5"/><path d="M759.0,368.3 L755.0,376.2 L749.8,383.3" stroke-width="3.8"/><path d="M756.3,376.2 L778.5,373.6" stroke-width="3.6"/><path d="M767.4,360.5 L767.4,397.0" stroke-width="4.0"/><path d="M757.0,387.3 L776.6,384.7" stroke-width="3.6"/><path d="M745.9,399.0 L768.1,396.4 L789.0,396.4" stroke-width="3.8"/><path d="M803.0,369.7 L797.2,381.4" stroke-width="4.0"/><path d="M801.1,375.5 L814.1,372.9" stroke-width="3.6"/><path d="M809.6,360.5 L808.3,399.7" stroke-width="4.2"/><path d="M795.2,391.8 L814.8,382.0" stroke-width="3.8"/><path d="M824.6,362.5 L821.3,371.0 L815.4,380.1" stroke-width="4.0"/><path d="M822.6,376.2 L838.9,375.5 L837.6,386.6 L834.3,397.0 L827.2,393.8" stroke-width="3.8"/><path d="M828.5,376.8 L822.0,387.9 L813.5,397.0" stroke-width="3.8"/><path d="M833.7,378.1 L825.9,391.8" stroke-width="3.6"/></g>
<g stroke="#5aa82c"><path d="M643.9,371.0 L657.6,367.7" stroke-width="3.3"/><path d="M652.3,369.0 L651.7,380.1 L649.1,388.6" stroke-width="3.5"/><path d="M644.5,382.0 L655.6,378.8" stroke-width="3.2"/><path d="M640.6,394.4 L647.1,391.2 L656.3,385.3" stroke-width="3.4"/><path d="M658.9,369.0 L683.0,366.4" stroke-width="3.2"/><path d="M666.0,361.2 L666.7,371.6" stroke-width="3.4"/><path d="M676.5,359.9 L675.8,371.0" stroke-width="3.4"/><path d="M664.7,375.5 L679.7,373.6" stroke-width="2.9"/><path d="M664.7,375.5 L665.4,382.0" stroke-width="3.1"/><path d="M679.7,373.6 L678.4,380.7" stroke-width="3.1"/><path d="M665.4,382.0 L678.4,380.7" stroke-width="2.9"/><path d="M671.7,367.0 L671.3,399.0" stroke-width="3.5"/><path d="M662.8,387.3 L678.4,385.3" stroke-width="3.1"/><path d="M663.4,393.1 L679.1,391.2" stroke-width="3.1"/><path d="M657.6,399.7 L684.3,398.3" stroke-width="3.5"/><path d="M695.2,367.7 L732.3,364.4" stroke-width="3.3"/><path d="M707.6,361.8 L709.5,371.0" stroke-width="3.5"/><path d="M720.0,359.9 L718.0,370.3" stroke-width="3.5"/><path d="M713.4,371.6 L714.1,374.9" stroke-width="3.5"/><path d="M699.1,374.9 L695.2,383.3" stroke-width="3.5"/><path d="M699.7,376.4 L733.7,374.9 L731.0,379.4" stroke-width="3.3"/><path d="M707.6,382.0 L723.2,380.1" stroke-width="3.1"/><path d="M705.0,386.6 L706.9,395.1" stroke-width="3.3"/><path d="M705.0,386.6 L723.9,384.7 L721.3,393.8" stroke-width="3.2"/><path d="M707.6,390.5 L720.6,389.2" stroke-width="2.7"/><path d="M706.9,395.1 L721.3,393.8" stroke-width="3.1"/><path d="M695.8,399.7 L733.7,398.3" stroke-width="3.5"/><path d="M759.0,368.3 L755.0,376.2 L749.8,383.3" stroke-width="3.8"/><path d="M756.3,376.2 L778.5,373.6" stroke-width="3.6"/><path d="M767.4,360.5 L767.4,397.0" stroke-width="4.0"/><path d="M757.0,387.3 L776.6,384.7" stroke-width="3.6"/><path d="M745.9,399.0 L768.1,396.4 L789.0,396.4" stroke-width="3.8"/><path d="M803.0,369.7 L797.2,381.4" stroke-width="4.0"/><path d="M801.1,375.5 L814.1,372.9" stroke-width="3.6"/><path d="M809.6,360.5 L808.3,399.7" stroke-width="4.2"/><path d="M795.2,391.8 L814.8,382.0" stroke-width="3.8"/><path d="M824.6,362.5 L821.3,371.0 L815.4,380.1" stroke-width="4.0"/><path d="M822.6,376.2 L838.9,375.5 L837.6,386.6 L834.3,397.0 L827.2,393.8" stroke-width="3.8"/><path d="M828.5,376.8 L822.0,387.9 L813.5,397.0" stroke-width="3.8"/><path d="M833.7,378.1 L825.9,391.8" stroke-width="3.6"/></g>
<g stroke="#86c945" transform="translate(-0.3,-0.5)" opacity="0.8"><path d="M643.9,371.0 L657.6,367.7" stroke-width="1.2"/><path d="M652.3,369.0 L651.7,380.1 L649.1,388.6" stroke-width="1.4"/><path d="M644.5,382.0 L655.6,378.8" stroke-width="1.1"/><path d="M640.6,394.4 L647.1,391.2 L656.3,385.3" stroke-width="1.3"/><path d="M658.9,369.0 L683.0,366.4" stroke-width="1.1"/><path d="M666.0,361.2 L666.7,371.6" stroke-width="1.3"/><path d="M676.5,359.9 L675.8,371.0" stroke-width="1.3"/><path d="M664.7,375.5 L679.7,373.6" stroke-width="0.8"/><path d="M664.7,375.5 L665.4,382.0" stroke-width="1.0"/><path d="M679.7,373.6 L678.4,380.7" stroke-width="1.0"/><path d="M665.4,382.0 L678.4,380.7" stroke-width="0.8"/><path d="M671.7,367.0 L671.3,399.0" stroke-width="1.4"/><path d="M662.8,387.3 L678.4,385.3" stroke-width="1.0"/><path d="M663.4,393.1 L679.1,391.2" stroke-width="1.0"/><path d="M657.6,399.7 L684.3,398.3" stroke-width="1.4"/><path d="M695.2,367.7 L732.3,364.4" stroke-width="1.2"/><path d="M707.6,361.8 L709.5,371.0" stroke-width="1.4"/><path d="M720.0,359.9 L718.0,370.3" stroke-width="1.4"/><path d="M713.4,371.6 L714.1,374.9" stroke-width="1.4"/><path d="M699.1,374.9 L695.2,383.3" stroke-width="1.4"/><path d="M699.7,376.4 L733.7,374.9 L731.0,379.4" stroke-width="1.2"/><path d="M707.6,382.0 L723.2,380.1" stroke-width="1.0"/><path d="M705.0,386.6 L706.9,395.1" stroke-width="1.2"/><path d="M705.0,386.6 L723.9,384.7 L721.3,393.8" stroke-width="1.1"/><path d="M707.6,390.5 L720.6,389.2" stroke-width="0.8"/><path d="M706.9,395.1 L721.3,393.8" stroke-width="1.0"/><path d="M695.8,399.7 L733.7,398.3" stroke-width="1.4"/><path d="M759.0,368.3 L755.0,376.2 L749.8,383.3" stroke-width="1.7"/><path d="M756.3,376.2 L778.5,373.6" stroke-width="1.5"/><path d="M767.4,360.5 L767.4,397.0" stroke-width="1.9"/><path d="M757.0,387.3 L776.6,384.7" stroke-width="1.5"/><path d="M745.9,399.0 L768.1,396.4 L789.0,396.4" stroke-width="1.7"/><path d="M803.0,369.7 L797.2,381.4" stroke-width="1.9"/><path d="M801.1,375.5 L814.1,372.9" stroke-width="1.5"/><path d="M809.6,360.5 L808.3,399.7" stroke-width="2.1"/><path d="M795.2,391.8 L814.8,382.0" stroke-width="1.7"/><path d="M824.6,362.5 L821.3,371.0 L815.4,380.1" stroke-width="1.9"/><path d="M822.6,376.2 L838.9,375.5 L837.6,386.6 L834.3,397.0 L827.2,393.8" stroke-width="1.7"/><path d="M828.5,376.8 L822.0,387.9 L813.5,397.0" stroke-width="1.7"/><path d="M833.7,378.1 L825.9,391.8" stroke-width="1.5"/></g>
</g>
</svg></body></html>
